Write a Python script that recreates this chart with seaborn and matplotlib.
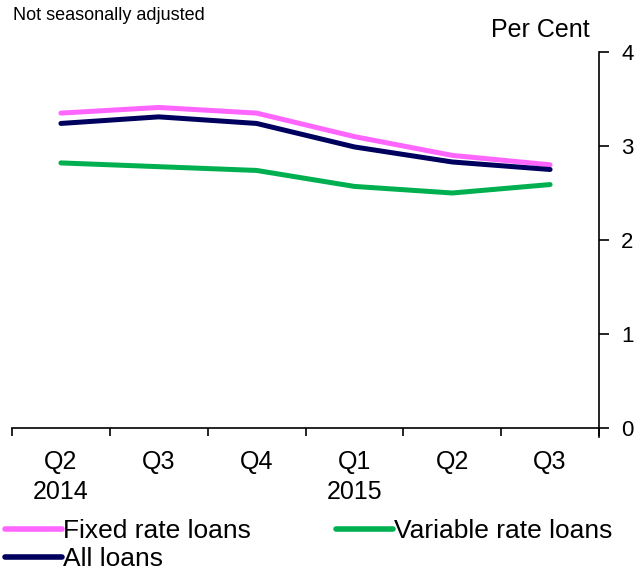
import pandas as pd
import matplotlib
matplotlib.use("Agg")
import matplotlib.pyplot as plt
import seaborn as sns

# --- Data ---
quarters = ["Q2\n2014", "Q3", "Q4", "Q1\n2015", "Q2", "Q3"]
fixed_rate = [3.35, 3.41, 3.35, 3.10, 2.90, 2.80]
variable_rate = [2.82, 2.78, 2.74, 2.57, 2.50, 2.59]
all_loans = [3.24, 3.31, 3.24, 2.99, 2.83, 2.75]

series_names = ["Fixed rate loans", "Variable rate loans", "All loans"]
colors = ["#FF66FF", "#00B050", "#00005E"]

rows = []
for name, vals in zip(series_names, [fixed_rate, variable_rate, all_loans]):
    for i, v in enumerate(vals):
        rows.append({"pos": i, "value": v, "series": name})
df = pd.DataFrame(rows)

sns.set_style("white")
plt.rcParams['font.family'] = ['Liberation Sans', 'DejaVu Sans']
plt.rcParams['text.color'] = 'black'
plt.rcParams['xtick.color'] = 'black'
plt.rcParams['ytick.color'] = 'black'

fig = plt.figure(figsize=(6.39, 5.74), dpi=100)
ax = fig.add_axes([12 / 639, 1 - 428 / 574, 587 / 639, 376 / 574])

sns.lineplot(data=df, x="pos", y="value", hue="series", hue_order=series_names,
             palette=colors, linewidth=3.6, ax=ax, legend=False)

ax.set_xlim(-0.5, 5.5)
ax.set_ylim(0, 4)
ax.set_xlabel("")
ax.set_ylabel("")

# x axis: labels at centres, tick marks at boundaries
ax.set_xticks(range(len(quarters)))
ax.set_xticklabels(quarters, fontsize=18, linespacing=1.3)
ax.set_xticks([i - 0.5 for i in range(len(quarters) + 1)], minor=True)
ax.tick_params(axis="x", which="major", bottom=True, length=0, pad=16)
ax.tick_params(axis="x", which="minor", bottom=True, length=6, width=1.2, direction="out")

# y axis on the right, ticks pointing outwards
ax.yaxis.tick_right()
ax.set_yticks([0, 1, 2, 3, 4])
ax.tick_params(axis="y", which="major", right=True, left=False, length=7, width=1.2,
               direction="out", labelsize=16, pad=9)

for side in ["top", "left"]:
    ax.spines[side].set_visible(False)
for side in ["bottom", "right"]:
    ax.spines[side].set_color("black")
    ax.spines[side].set_linewidth(1.2)
ax.spines["right"].set_bounds(-0.1, 4)

fig.text(491 / 639, 1 - 30 / 574, "Per Cent", fontsize=18, va="center", ha="left")
fig.text(13 / 639, 1 - 15 / 574, "Not seasonally adjusted", fontsize=13,
         va="center", ha="left")

# legend: Fixed / Variable on first row, All on second
handles = [plt.Line2D([], [], color=c, linewidth=4) for c in colors]
order = [0, 2, 1]
fig.legend([handles[i] for i in order], [series_names[i] for i in order],
           loc="upper left", bbox_to_anchor=(5 / 639, 1 - 519 / 574), ncol=2,
           frameon=False, fontsize=19, handlelength=2.16, handletextpad=0.05,
           columnspacing=3.2, labelspacing=0.15, borderpad=0, borderaxespad=0.0)

fig.savefig("out.png", dpi=100)
